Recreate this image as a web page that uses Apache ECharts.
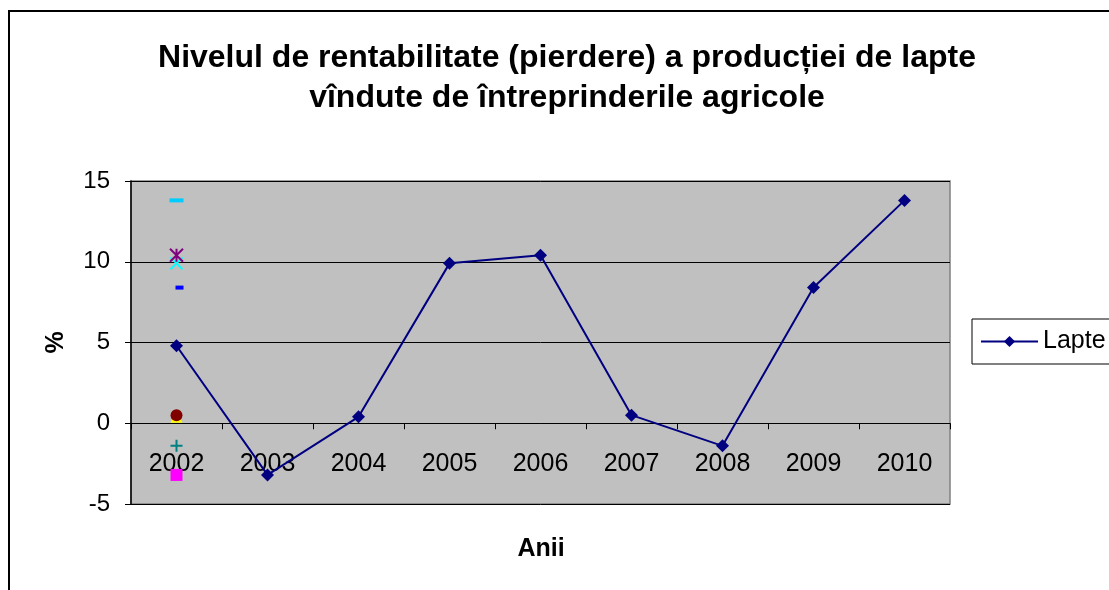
<!DOCTYPE html>
<html>
<head>
<meta charset="utf-8">
<script src="https://cdn.jsdelivr.net/npm/echarts@6/dist/echarts.min.js"></script>
<style>
html,body{margin:0;padding:0;background:#fff;}
#chart{width:1109px;height:590px;}
</style>
</head>
<body>
<div id="chart"></div>
<script>
const categories = ['2002','2003','2004','2005','2006','2007','2008','2009','2010'];
const lapte = [4.8, -3.2, 0.4, 9.9, 10.4, 0.5, -1.4, 8.4, 13.8];
// extra single-point series plotted at 2002
const extraValues = [-3.2, 0.4, 9.9, 10.4, 0.5, 8.4, 13.8, -1.4];
const yTicks = { min: -5, max: 15, interval: 5 };
const titleText = 'Nivelul de rentabilitate (pierdere) a producției de lapte\nvîndute de întreprinderile agricole';

const FONT = '"Liberation Sans", Arial, sans-serif';

const extraStyles = [
  { symbol: 'rect', size: 12, color: '#FF00FF' },
  { symbol: 'triangle', size: 12, color: '#FFFF00' },
  { symbol: 'path://M0,0L10,10M10,0L0,10', size: 12, color: 'none', stroke: '#00FFFF' },
  { symbol: 'path://M0,0L10,10M10,0L0,10M5,0L5,10', size: 13, color: 'none', stroke: '#800080' },
  { symbol: 'circle', size: 12, color: '#800000' },
  { symbol: 'rect', size: [8, 4], color: '#0000FF', offset: [3, 0] },
  { symbol: 'rect', size: [14, 4], color: '#00CCFF' },
  { symbol: 'path://M5,0L5,10M0,5L10,5', size: 12, color: 'none', stroke: '#008080' }
];

const series = [{
  name: 'Lapte',
  type: 'line',
  data: lapte,
  symbol: 'diamond',
  symbolSize: 13,
  lineStyle: { color: '#000080', width: 2 },
  itemStyle: { color: '#000080' },
  z: 3
}];
extraValues.forEach((v, i) => {
  const s = extraStyles[i];
  const item = { color: s.color };
  if (s.stroke) { item.borderColor = s.stroke; item.borderWidth = 2; }
  series.push({
    name: 'S' + (i + 2),
    type: 'line',
    data: [v],
    symbol: s.symbol,
    symbolSize: s.size,
    symbolOffset: s.offset || [0, 0],
    symbolKeepAspect: true,
    showSymbol: true,
    lineStyle: { width: 0 },
    itemStyle: item,
    z: 4 + i
  });
});

const chart = echarts.init(document.getElementById('chart'), null, { renderer: 'canvas' });
chart.setOption({
  animation: false,
  backgroundColor: '#ffffff',
  title: {
    text: titleText,
    left: 567,
    top: 38,
    textAlign: 'center',
    padding: 0,
    textStyle: { fontFamily: FONT, fontSize: 32, fontWeight: 'bold', color: '#000', lineHeight: 40 }
  },
  legend: {
    data: ['Lapte'],
    left: 972,
    top: 319,
    orient: 'vertical',
    padding: [8, 30, 8, 8],
    borderColor: '#000',
    borderWidth: 1,
    backgroundColor: '#fff',
    itemWidth: 57,
    itemHeight: 14,
    itemGap: 6,
    textStyle: { fontFamily: FONT, fontSize: 25, color: '#000', lineHeight: 26, padding: [3, 0, 0, 0] }
  },
  grid: {
    left: 131, right: 159, top: 181, bottom: 86,
    show: true,
    backgroundColor: '#C0C0C0',
    borderColor: '#808080',
    borderWidth: 1.5
  },
  xAxis: {
    type: 'category',
    data: categories,
    boundaryGap: true,
    axisLine: { onZero: true, lineStyle: { color: '#000', width: 1 } },
    axisTick: { show: true, inside: false, length: 6, lineStyle: { color: '#000' } },
    axisLabel: { fontFamily: FONT, fontSize: 25, color: '#000', margin: -52 },
    splitLine: { show: false }
  },
  yAxis: {
    type: 'value',
    min: yTicks.min, max: yTicks.max, interval: yTicks.interval,
    name: '%',
    nameLocation: 'middle',
    nameRotate: 90,
    nameGap: 62,
    nameTextStyle: { fontFamily: FONT, fontSize: 25, fontWeight: 'bold', color: '#000' },
    axisLine: { show: true, lineStyle: { color: '#000', width: 1.5 } },
    axisTick: { show: true, inside: false, length: 6, lineStyle: { color: '#000' } },
    axisLabel: { fontFamily: FONT, fontSize: 24, color: '#000', margin: 21 },
    splitLine: { show: true, lineStyle: { color: '#000', width: 1 } }
  },
  graphic: [
    {
      type: 'rect',
      shape: { x: 9, y: 11, width: 1300, height: 800 },
      style: { fill: 'none', stroke: '#000', lineWidth: 2 },
      z: 100, silent: true
    },
    {
      type: 'text',
      x: 541, y: 549,
      style: { text: 'Anii', fontFamily: FONT, fontSize: 25, fontWeight: 'bold', fill: '#000', align: 'center', verticalAlign: 'middle' }
    }
  ],
  series: series
});
</script>
</body>
</html>
